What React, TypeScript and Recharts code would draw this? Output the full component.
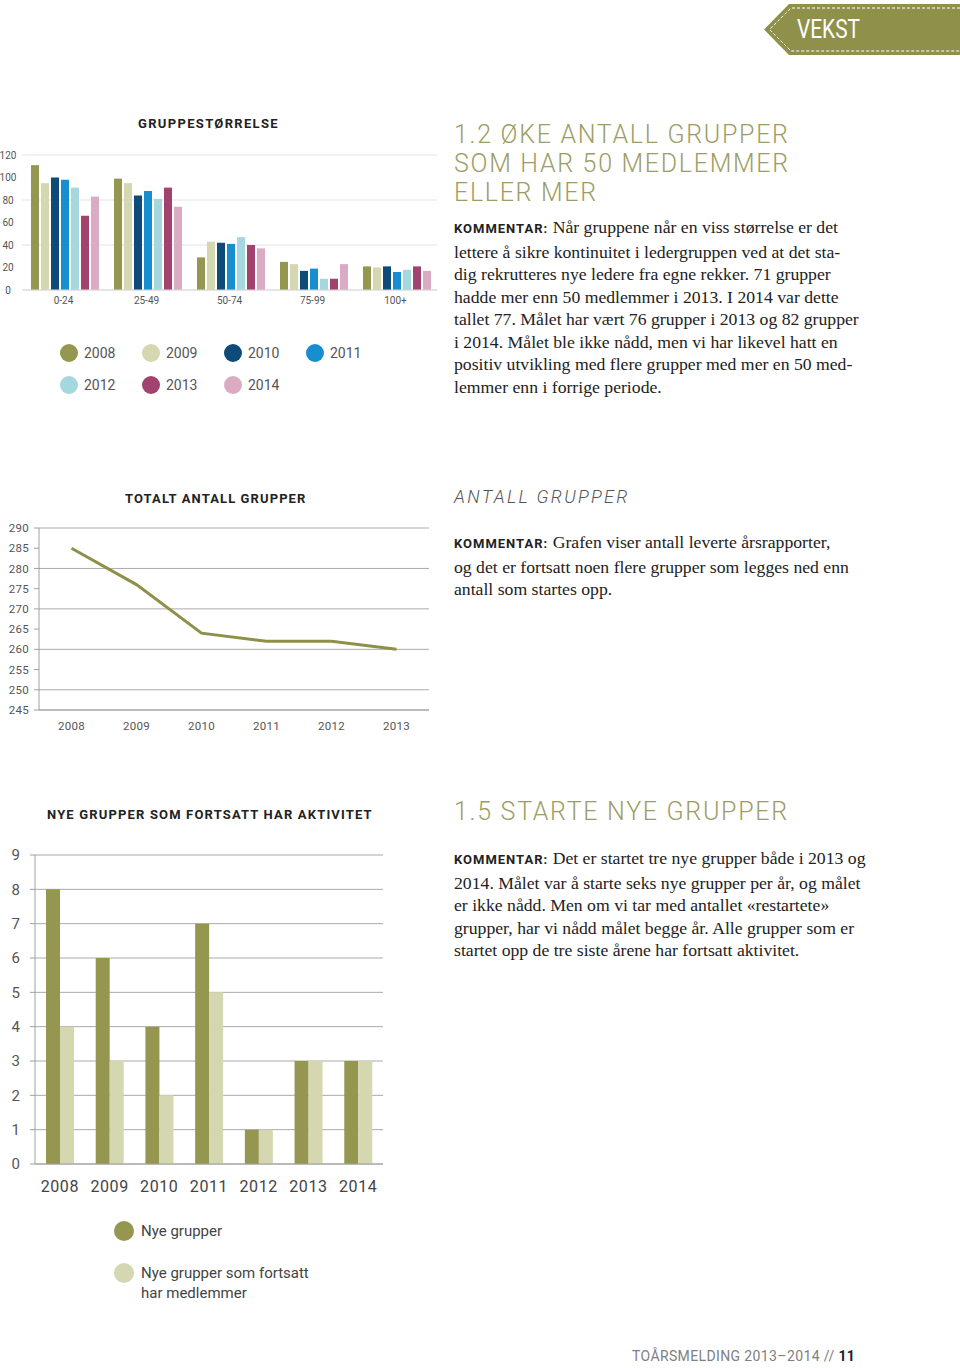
import React from 'react';
import { BarChart, Bar, LineChart, Line, XAxis, YAxis, CartesianGrid } from 'recharts';

// ---------- Chart 1: Gruppestørrelse ----------
const sizeCategories = ['0-24', '25-49', '50-74', '75-99', '100+'];
const sizeYears = ['2008', '2009', '2010', '2011', '2012', '2013', '2014'];
const size2008 = [111, 99, 29, 25, 21];
const size2009 = [95, 95, 43, 23, 20];
const size2010 = [100, 84, 42, 17, 21];
const size2011 = [98, 88, 41, 19, 16];
const size2012 = [91, 81, 47, 10, 18];
const size2013 = [66, 91, 40, 10, 21];
const size2014 = [83, 74, 37, 23, 17];
const sizeTicks = [0, 20, 40, 60, 80, 100, 120];
const sizeColors = ['#959650', '#d5d7b0', '#0e4b78', '#178ecf', '#a4d8de', '#a2436f', '#dbaac3'];

// ---------- Chart 2: Totalt antall grupper ----------
const totalYears = ['2008', '2009', '2010', '2011', '2012', '2013'];
const totalGroups = [285, 276, 264, 262, 262, 260];
const totalTicks = [245, 250, 255, 260, 265, 270, 275, 280, 285, 290];

// ---------- Chart 3: Nye grupper ----------
const newYears = ['2008', '2009', '2010', '2011', '2012', '2013', '2014'];
const newGroups = [8, 6, 4, 7, 1, 3, 3];
const stillActive = [4, 3, 2, 5, 1, 3, 3];
const newTicks = [0, 1, 2, 3, 4, 5, 6, 7, 8, 9];
const newLabels = ['Nye grupper', 'Nye grupper som fortsatt\nhar medlemmer'];

const OLIVE = '#959650';
const PALE = '#d5d7b0';

const sizeSeries = [size2008, size2009, size2010, size2011, size2012, size2013, size2014];
const sizeData = sizeCategories.map((c, i) => {
  const row: any = { category: c };
  sizeYears.forEach((y, j) => {
    row[y] = sizeSeries[j][i];
  });
  return row;
});
const totalData = totalYears.map((y, i) => ({ year: y, total: totalGroups[i] }));
const newData = newYears.map((y, i) => ({ year: y, nye: newGroups[i], fortsatt: stillActive[i] }));

const edgeTicks = (n: number) => Array.from({ length: n + 1 }, (_, i) => i);

const SANS = 'Roboto, "Liberation Sans", Arial, sans-serif';
const SERIF = '"Liberation Serif", "DejaVu Serif", serif';

const abs = (left: number, top: number, extra: any = {}) => ({ position: 'absolute' as const, left, top, ...extra });

const Kommentar = () => (
  <span style={{ fontFamily: SANS, fontWeight: 700, fontSize: 13, letterSpacing: 1, color: '#222' }}>KOMMENTAR:</span>
);

const Body = ({ left, top, lines }: { left: number; top: number; lines: string[] }) => (
  <div style={abs(left, top, { fontFamily: SERIF, fontSize: 17.7, lineHeight: '22.5px', color: '#222', whiteSpace: 'nowrap' })}>
    {lines.map((l, i) => (
      <div key={i}>
        {i === 0 ? (
          <>
            <Kommentar /> {l}
          </>
        ) : (
          l
        )}
      </div>
    ))}
  </div>
);

const Heading = ({ left, top, lines }: { left: number; top: number; lines: string[] }) => (
  <div
    style={abs(left, top, {
      fontFamily: SANS,
      fontWeight: 300,
      fontSize: 25,
      lineHeight: '29px',
      letterSpacing: 1.7,
      color: '#9c9d64',
      whiteSpace: 'nowrap',
    })}
  >
    {lines.map((l, i) => (
      <div key={i}>{l}</div>
    ))}
  </div>
);

const ChartTitle = ({ left, top, text, spacing = 1 }: { left: number; top: number; text: string; spacing?: number }) => (
  <div style={abs(left, top, { fontFamily: SANS, fontWeight: 700, fontSize: 13, letterSpacing: spacing, color: '#222', whiteSpace: 'nowrap', lineHeight: '16px' })}>
    {text}
  </div>
);

const Dot = ({ color, size }: { color: string; size: number }) => (
  <span style={{ display: 'inline-block', width: size, height: size, borderRadius: '50%', background: color }} />
);

export default function App() {
  return (
    <div style={{ position: 'absolute', left: 0, top: 0, width: 960, height: 1368, background: '#fff', overflow: 'hidden', fontFamily: SANS }}>
      {/* Banner */}
      <svg style={abs(0, 0)} width={960} height={60}>
        <polygon points="764,29.5 789,4 960,4 960,55 789,55" fill="#8f914a" />
        <polyline points="960,8 791,8 769.5,29.5 791,51 960,51" fill="none" stroke="#ffffff" strokeWidth={1} strokeDasharray="3 2" />
        <text x={797} y={38} fill="#ffffff" fontSize={25} textLength={63} lengthAdjust="spacingAndGlyphs" style={{ fontFamily: SANS }}>
          VEKST
        </text>
      </svg>

      {/* Chart 1 */}
      <ChartTitle left={138} top={116} text="GRUPPESTØRRELSE" spacing={1.33} />
      <div style={abs(0, 140)}>
        <BarChart width={440} height={175} data={sizeData} margin={{ top: 15, right: 3, bottom: 5, left: 0 }} barCategoryGap={9} barGap={2}>
          <CartesianGrid vertical={false} stroke="#e3e3e3" />
          <XAxis
            dataKey="category"
            interval={0}
            height={20}
            tickLine={false}
            tickSize={0}
            tickMargin={7}
            axisLine={{ stroke: '#d8d8d8' }}
            tick={{ fontSize: 10, fill: '#555' }}
          />
          <YAxis
            domain={[0, 120]}
            ticks={sizeTicks}
            width={22}
            axisLine={false}
            tickLine={false}
            tickSize={0}
            tickMargin={14}
            tick={{ fontSize: 10, fill: '#555', textAnchor: 'middle' }}
          />
          {sizeYears.map((y, i) => (
            <Bar key={y} dataKey={y} fill={sizeColors[i]} isAnimationActive={false} />
          ))}
        </BarChart>
      </div>
      {/* Legend 1 */}
      {sizeYears.map((y, i) => {
        const col = i % 4;
        const row = Math.floor(i / 4);
        return (
          <div key={y} style={abs(60 + col * 82, 344 + row * 32, { display: 'flex', alignItems: 'center', gap: 6, fontSize: 14, color: '#555', lineHeight: '18px' })}>
            <Dot color={sizeColors[i]} size={18} />
            <span>{y}</span>
          </div>
        );
      })}

      {/* Text block 1 */}
      <Heading left={454} top={120} lines={['1.2 ØKE ANTALL GRUPPER', 'SOM HAR 50 MEDLEMMER', 'ELLER MER']} />
      <Body
        left={454}
        top={216}
        lines={[
          'Når gruppene når en viss størrelse er det',
          'lettere å sikre kontinuitet i ledergruppen ved at det sta-',
          'dig rekrutteres nye ledere fra egne rekker. 71 grupper',
          'hadde mer enn 50 medlemmer i 2013. I 2014 var dette',
          'tallet 77. Målet har vært 76 grupper i 2013 og 82 grupper',
          'i 2014. Målet ble ikke nådd, men vi har likevel hatt en',
          'positiv utvikling med flere grupper med mer en 50 med-',
          'lemmer enn i forrige periode.',
        ]}
      />

      {/* Chart 2 */}
      <ChartTitle left={125} top={491} text="TOTALT ANTALL GRUPPER" spacing={1.1} />
      <div style={abs(0, 510)}>
        <LineChart width={440} height={230} data={totalData} margin={{ top: 18, right: 11, bottom: 4, left: 0 }}>
          <CartesianGrid vertical={false} stroke="#ababab" xAxisId="main" />
          <XAxis
            xAxisId="edges"
            type="number"
            domain={[0, totalYears.length]}
            ticks={edgeTicks(totalYears.length)}
            allowDataOverflow
            height={1}
            tick={false}
            tickSize={5}
            axisLine={{ stroke: '#a0a0a0' }}
            tickLine={{ stroke: '#a0a0a0' }}
          />
          <XAxis
            xAxisId="main"
            dataKey="year"
            interval={0}
            height={25}
            padding={{ left: 32.5, right: 32.5 }}
            axisLine={false}
            tickLine={false}
            tickSize={0}
            tickMargin={11}
            tick={{ fontSize: 11.5, fill: '#555', letterSpacing: 0.3 }}
          />
          <YAxis
            domain={[245, 290]}
            ticks={totalTicks}
            width={39}
            tickSize={5}
            tickMargin={5}
            axisLine={{ stroke: '#a0a0a0' }}
            tickLine={{ stroke: '#a0a0a0' }}
            tick={{ fontSize: 11.5, fill: '#555', letterSpacing: 0.3 }}
          />
          <Line xAxisId="main" type="linear" dataKey="total" stroke="#8f9048" strokeWidth={3} dot={false} isAnimationActive={false} />
        </LineChart>
      </div>

      {/* Text block 2 */}
      <div style={abs(454, 486, { fontFamily: SANS, fontStyle: 'italic', fontWeight: 300, fontSize: 18, letterSpacing: 2.3, color: '#555', whiteSpace: 'nowrap', lineHeight: '22px' })}>
        ANTALL GRUPPER
      </div>
      <Body
        left={454}
        top={531}
        lines={[
          'Grafen viser antall leverte årsrapporter,',
          'og det er fortsatt noen flere grupper som legges ned enn',
          'antall som startes opp.',
        ]}
      />

      {/* Chart 3 */}
      <ChartTitle left={47} top={807} text="NYE GRUPPER SOM FORTSATT HAR AKTIVITET" spacing={1.16} />
      <div style={abs(0, 840)}>
        <BarChart width={400} height={360} data={newData} margin={{ top: 15, right: 17, bottom: 4, left: 0 }} barGap={0}>
          <CartesianGrid vertical={false} stroke="#a9a9a9" xAxisId="main" />
          <XAxis
            xAxisId="edges"
            type="number"
            domain={[0, newYears.length]}
            ticks={edgeTicks(newYears.length)}
            allowDataOverflow
            height={1}
            tick={false}
            tickSize={5}
            axisLine={{ stroke: '#a0a0a0' }}
            tickLine={{ stroke: '#a0a0a0' }}
          />
          <XAxis
            xAxisId="main"
            dataKey="year"
            interval={0}
            height={31}
            axisLine={false}
            tickLine={false}
            tickSize={0}
            tickMargin={16}
            tick={{ fontSize: 16, fill: '#444', letterSpacing: 0.6 }}
          />
          <YAxis
            domain={[0, 9]}
            ticks={newTicks}
            width={35}
            tickSize={5}
            tickMargin={10}
            axisLine={{ stroke: '#a0a0a0' }}
            tickLine={{ stroke: '#a0a0a0' }}
            tick={{ fontSize: 15, fill: '#555' }}
          />
          <Bar xAxisId="main" dataKey="nye" fill={OLIVE} barSize={14} isAnimationActive={false} />
          <Bar xAxisId="main" dataKey="fortsatt" fill={PALE} barSize={14} isAnimationActive={false} />
        </BarChart>
      </div>
      {/* Legend 3 */}
      {newLabels.map((t, i) => (
        <div key={t} style={abs(114, 1221 + i * 42, { display: 'flex', alignItems: 'flex-start', gap: 7, fontSize: 15, color: '#444', lineHeight: '20px' })}>
          <Dot color={i === 0 ? OLIVE : PALE} size={20} />
          <span style={{ whiteSpace: 'pre' }}>{t}</span>
        </div>
      ))}

      {/* Text block 3 */}
      <Heading left={454} top={797} lines={['1.5 STARTE NYE GRUPPER']} />
      <Body
        left={454}
        top={847}
        lines={[
          'Det er startet tre nye grupper både i 2013 og',
          '2014. Målet var å starte seks nye grupper per år, og målet',
          'er ikke nådd. Men om vi tar med antallet «restartete»',
          'grupper, har vi nådd målet begge år. Alle grupper som er',
          'startet opp de tre siste årene har fortsatt aktivitet.',
        ]}
      />

      {/* Footer */}
      <div style={abs(632, 1347, { fontSize: 14, letterSpacing: 0.38, color: '#808080', whiteSpace: 'nowrap', lineHeight: '18px' })}>
        TOÅRSMELDING 2013–2014 // <span style={{ fontWeight: 700, color: '#222' }}>11</span>
      </div>
    </div>
  );
}
